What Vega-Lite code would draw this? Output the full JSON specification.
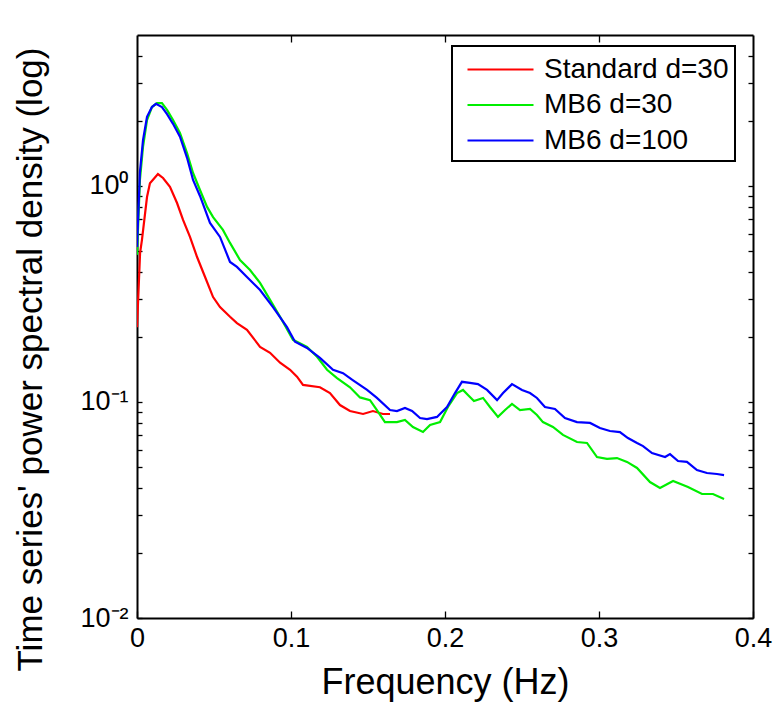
{
  "$schema": "https://vega.github.io/schema/vega-lite/v6.json",
  "width": 616,
  "height": 583,
  "autosize": {"type": "none"},
  "padding": {"left": 137, "top": 35, "right": 26, "bottom": 96},
  "config": {
    "font": "Liberation Sans",
    "view": {"stroke": null},
    "axis": {
      "grid": false,
      "domainColor": "black",
      "domainWidth": 2,
      "tickColor": "black",
      "tickWidth": 1.3,
      "labelColor": "black",
      "titleColor": "black",
      "labelFontSize": 27,
      "titleFontWeight": "normal",
      "labelFlush": false,
      "labelOverlap": false
    }
  },
  "datasets": {
    "psd": [
      {"series": "Standard d=30", "f": 0, "v": 0.222},
      {"series": "Standard d=30", "f": 0.002, "v": 0.49},
      {"series": "Standard d=30", "f": 0.0032, "v": 0.562},
      {"series": "Standard d=30", "f": 0.0065, "v": 0.889},
      {"series": "Standard d=30", "f": 0.0084, "v": 1.03},
      {"series": "Standard d=30", "f": 0.0136, "v": 1.136},
      {"series": "Standard d=30", "f": 0.0169, "v": 1.089},
      {"series": "Standard d=30", "f": 0.0214, "v": 0.99},
      {"series": "Standard d=30", "f": 0.026, "v": 0.834},
      {"series": "Standard d=30", "f": 0.0299, "v": 0.696},
      {"series": "Standard d=30", "f": 0.0344, "v": 0.581},
      {"series": "Standard d=30", "f": 0.039, "v": 0.469},
      {"series": "Standard d=30", "f": 0.0442, "v": 0.379},
      {"series": "Standard d=30", "f": 0.0494, "v": 0.306},
      {"series": "Standard d=30", "f": 0.0539, "v": 0.275},
      {"series": "Standard d=30", "f": 0.0604, "v": 0.248},
      {"series": "Standard d=30", "f": 0.0649, "v": 0.232},
      {"series": "Standard d=30", "f": 0.0714, "v": 0.216},
      {"series": "Standard d=30", "f": 0.0799, "v": 0.18},
      {"series": "Standard d=30", "f": 0.0864, "v": 0.169},
      {"series": "Standard d=30", "f": 0.0929, "v": 0.152},
      {"series": "Standard d=30", "f": 0.0994, "v": 0.141},
      {"series": "Standard d=30", "f": 0.1039, "v": 0.131},
      {"series": "Standard d=30", "f": 0.1078, "v": 0.12},
      {"series": "Standard d=30", "f": 0.1188, "v": 0.117},
      {"series": "Standard d=30", "f": 0.1253, "v": 0.11},
      {"series": "Standard d=30", "f": 0.1318, "v": 0.0968},
      {"series": "Standard d=30", "f": 0.1383, "v": 0.0908},
      {"series": "Standard d=30", "f": 0.1468, "v": 0.088},
      {"series": "Standard d=30", "f": 0.1532, "v": 0.0908},
      {"series": "Standard d=30", "f": 0.1597, "v": 0.088},
      {"series": "Standard d=30", "f": 0.1643, "v": 0.088},

      {"series": "MB6 d=30", "f": 0, "v": 0.48},
      {"series": "MB6 d=30", "f": 0.0019, "v": 1.066},
      {"series": "MB6 d=30", "f": 0.0039, "v": 1.516},
      {"series": "MB6 d=30", "f": 0.0065, "v": 2.02},
      {"series": "MB6 d=30", "f": 0.0097, "v": 2.32},
      {"series": "MB6 d=30", "f": 0.013, "v": 2.42},
      {"series": "MB6 d=30", "f": 0.0162, "v": 2.42},
      {"series": "MB6 d=30", "f": 0.0195, "v": 2.25},
      {"series": "MB6 d=30", "f": 0.0234, "v": 2.02},
      {"series": "MB6 d=30", "f": 0.0279, "v": 1.76},
      {"series": "MB6 d=30", "f": 0.0325, "v": 1.42},
      {"series": "MB6 d=30", "f": 0.0364, "v": 1.148},
      {"series": "MB6 d=30", "f": 0.0409, "v": 0.958},
      {"series": "MB6 d=30", "f": 0.0455, "v": 0.8},
      {"series": "MB6 d=30", "f": 0.0494, "v": 0.718},
      {"series": "MB6 d=30", "f": 0.0558, "v": 0.626},
      {"series": "MB6 d=30", "f": 0.0604, "v": 0.545},
      {"series": "MB6 d=30", "f": 0.0669, "v": 0.454},
      {"series": "MB6 d=30", "f": 0.0734, "v": 0.408},
      {"series": "MB6 d=30", "f": 0.0799, "v": 0.356},
      {"series": "MB6 d=30", "f": 0.0864, "v": 0.297},
      {"series": "MB6 d=30", "f": 0.0929, "v": 0.248},
      {"series": "MB6 d=30", "f": 0.1013, "v": 0.194},
      {"series": "MB6 d=30", "f": 0.1104, "v": 0.18},
      {"series": "MB6 d=30", "f": 0.1169, "v": 0.162},
      {"series": "MB6 d=30", "f": 0.1234, "v": 0.141},
      {"series": "MB6 d=30", "f": 0.1299, "v": 0.129},
      {"series": "MB6 d=30", "f": 0.1383, "v": 0.117},
      {"series": "MB6 d=30", "f": 0.1448, "v": 0.105},
      {"series": "MB6 d=30", "f": 0.1513, "v": 0.102},
      {"series": "MB6 d=30", "f": 0.1558, "v": 0.0918},
      {"series": "MB6 d=30", "f": 0.161, "v": 0.0807},
      {"series": "MB6 d=30", "f": 0.1688, "v": 0.0807},
      {"series": "MB6 d=30", "f": 0.174, "v": 0.0826},
      {"series": "MB6 d=30", "f": 0.1792, "v": 0.0766},
      {"series": "MB6 d=30", "f": 0.1857, "v": 0.0726},
      {"series": "MB6 d=30", "f": 0.1903, "v": 0.0783},
      {"series": "MB6 d=30", "f": 0.1968, "v": 0.0807},
      {"series": "MB6 d=30", "f": 0.2019, "v": 0.0948},
      {"series": "MB6 d=30", "f": 0.2078, "v": 0.11},
      {"series": "MB6 d=30", "f": 0.2117, "v": 0.1137},
      {"series": "MB6 d=30", "f": 0.2149, "v": 0.1077},
      {"series": "MB6 d=30", "f": 0.2188, "v": 0.101},
      {"series": "MB6 d=30", "f": 0.2247, "v": 0.1044},
      {"series": "MB6 d=30", "f": 0.2292, "v": 0.0948},
      {"series": "MB6 d=30", "f": 0.2344, "v": 0.0853},
      {"series": "MB6 d=30", "f": 0.239, "v": 0.0918},
      {"series": "MB6 d=30", "f": 0.2435, "v": 0.098},
      {"series": "MB6 d=30", "f": 0.2487, "v": 0.0918},
      {"series": "MB6 d=30", "f": 0.2552, "v": 0.0928},
      {"series": "MB6 d=30", "f": 0.2597, "v": 0.0871},
      {"series": "MB6 d=30", "f": 0.2636, "v": 0.0807},
      {"series": "MB6 d=30", "f": 0.2701, "v": 0.0766},
      {"series": "MB6 d=30", "f": 0.2766, "v": 0.0704},
      {"series": "MB6 d=30", "f": 0.2857, "v": 0.0653},
      {"series": "MB6 d=30", "f": 0.2922, "v": 0.0646},
      {"series": "MB6 d=30", "f": 0.2987, "v": 0.0556},
      {"series": "MB6 d=30", "f": 0.3052, "v": 0.0545},
      {"series": "MB6 d=30", "f": 0.3117, "v": 0.055},
      {"series": "MB6 d=30", "f": 0.3182, "v": 0.0528},
      {"series": "MB6 d=30", "f": 0.3247, "v": 0.0495},
      {"series": "MB6 d=30", "f": 0.3331, "v": 0.0426},
      {"series": "MB6 d=30", "f": 0.3396, "v": 0.04},
      {"series": "MB6 d=30", "f": 0.3481, "v": 0.0431},
      {"series": "MB6 d=30", "f": 0.3578, "v": 0.0404},
      {"series": "MB6 d=30", "f": 0.3669, "v": 0.0375},
      {"series": "MB6 d=30", "f": 0.374, "v": 0.0375},
      {"series": "MB6 d=30", "f": 0.3812, "v": 0.0356},

      {"series": "MB6 d=100", "f": 0, "v": 0.522},
      {"series": "MB6 d=100", "f": 0.0019, "v": 1.16},
      {"series": "MB6 d=100", "f": 0.0039, "v": 1.63},
      {"series": "MB6 d=100", "f": 0.0065, "v": 2.09},
      {"series": "MB6 d=100", "f": 0.0097, "v": 2.32},
      {"series": "MB6 d=100", "f": 0.0123, "v": 2.4},
      {"series": "MB6 d=100", "f": 0.0162, "v": 2.32},
      {"series": "MB6 d=100", "f": 0.0195, "v": 2.15},
      {"series": "MB6 d=100", "f": 0.0234, "v": 1.94},
      {"series": "MB6 d=100", "f": 0.0279, "v": 1.69},
      {"series": "MB6 d=100", "f": 0.0325, "v": 1.35},
      {"series": "MB6 d=100", "f": 0.0364, "v": 1.066},
      {"series": "MB6 d=100", "f": 0.0409, "v": 0.899},
      {"series": "MB6 d=100", "f": 0.0474, "v": 0.674},
      {"series": "MB6 d=100", "f": 0.0539, "v": 0.581},
      {"series": "MB6 d=100", "f": 0.0604, "v": 0.445},
      {"series": "MB6 d=100", "f": 0.0649, "v": 0.422},
      {"series": "MB6 d=100", "f": 0.0714, "v": 0.379},
      {"series": "MB6 d=100", "f": 0.0799, "v": 0.33},
      {"series": "MB6 d=100", "f": 0.0883, "v": 0.275},
      {"series": "MB6 d=100", "f": 0.0974, "v": 0.222},
      {"series": "MB6 d=100", "f": 0.1026, "v": 0.19},
      {"series": "MB6 d=100", "f": 0.1104, "v": 0.178},
      {"series": "MB6 d=100", "f": 0.1188, "v": 0.16},
      {"series": "MB6 d=100", "f": 0.1273, "v": 0.141},
      {"series": "MB6 d=100", "f": 0.1338, "v": 0.136},
      {"series": "MB6 d=100", "f": 0.1403, "v": 0.126},
      {"series": "MB6 d=100", "f": 0.1494, "v": 0.1137},
      {"series": "MB6 d=100", "f": 0.1558, "v": 0.1044},
      {"series": "MB6 d=100", "f": 0.1643, "v": 0.0918},
      {"series": "MB6 d=100", "f": 0.1688, "v": 0.0908},
      {"series": "MB6 d=100", "f": 0.174, "v": 0.0938},
      {"series": "MB6 d=100", "f": 0.1786, "v": 0.0908},
      {"series": "MB6 d=100", "f": 0.1838, "v": 0.0843},
      {"series": "MB6 d=100", "f": 0.1883, "v": 0.0834},
      {"series": "MB6 d=100", "f": 0.1948, "v": 0.0853},
      {"series": "MB6 d=100", "f": 0.2013, "v": 0.0948},
      {"series": "MB6 d=100", "f": 0.2065, "v": 0.11},
      {"series": "MB6 d=100", "f": 0.211, "v": 0.124},
      {"series": "MB6 d=100", "f": 0.2162, "v": 0.1225},
      {"series": "MB6 d=100", "f": 0.2214, "v": 0.121},
      {"series": "MB6 d=100", "f": 0.2273, "v": 0.1137},
      {"series": "MB6 d=100", "f": 0.2338, "v": 0.102},
      {"series": "MB6 d=100", "f": 0.2377, "v": 0.11},
      {"series": "MB6 d=100", "f": 0.2435, "v": 0.121},
      {"series": "MB6 d=100", "f": 0.25, "v": 0.1137},
      {"series": "MB6 d=100", "f": 0.2552, "v": 0.11},
      {"series": "MB6 d=100", "f": 0.2597, "v": 0.1044},
      {"series": "MB6 d=100", "f": 0.2649, "v": 0.0948},
      {"series": "MB6 d=100", "f": 0.2714, "v": 0.0928},
      {"series": "MB6 d=100", "f": 0.2779, "v": 0.0843},
      {"series": "MB6 d=100", "f": 0.2857, "v": 0.0807},
      {"series": "MB6 d=100", "f": 0.2942, "v": 0.08},
      {"series": "MB6 d=100", "f": 0.3006, "v": 0.0758},
      {"series": "MB6 d=100", "f": 0.3071, "v": 0.0734},
      {"series": "MB6 d=100", "f": 0.3136, "v": 0.0726},
      {"series": "MB6 d=100", "f": 0.3188, "v": 0.0681},
      {"series": "MB6 d=100", "f": 0.3247, "v": 0.0646},
      {"series": "MB6 d=100", "f": 0.3286, "v": 0.0625},
      {"series": "MB6 d=100", "f": 0.3344, "v": 0.058},
      {"series": "MB6 d=100", "f": 0.3429, "v": 0.0556},
      {"series": "MB6 d=100", "f": 0.3461, "v": 0.0574},
      {"series": "MB6 d=100", "f": 0.3513, "v": 0.0533},
      {"series": "MB6 d=100", "f": 0.3571, "v": 0.0528},
      {"series": "MB6 d=100", "f": 0.3636, "v": 0.0484},
      {"series": "MB6 d=100", "f": 0.3701, "v": 0.0469},
      {"series": "MB6 d=100", "f": 0.3766, "v": 0.0464},
      {"series": "MB6 d=100", "f": 0.3812, "v": 0.0459}
    ]
  },
  "data": {"name": "psd"},
  "layer": [
    {
      "transform": [{"filter": "datum.series == 'Standard d=30'"}],
      "mark": {"type": "line", "strokeWidth": 2.2, "clip": true},
      "encoding": {
        "x": {
          "field": "f", "type": "quantitative",
          "scale": {"domain": [0, 0.4], "nice": false, "zero": false},
          "axis": {
            "orient": "bottom",
            "values": [0, 0.1, 0.2, 0.3, 0.4],
            "labelExpr": "datum.value == 0 ? '0' : format(datum.value, '.1f')",
            "tickSize": -7,
            "labelPadding": 14,
            "title": "Frequency (Hz)",
            "titleFontSize": 36,
            "titlePadding": 14
          }
        },
        "y": {
          "field": "v", "type": "quantitative",
          "scale": {"type": "log", "domain": [0.01, 5], "nice": false},
          "axis": {
            "orient": "left",
            "values": [0.01, 0.02, 0.03, 0.04, 0.05, 0.06, 0.07, 0.08, 0.09, 0.1, 0.2, 0.3, 0.4, 0.5, 0.6, 0.7, 0.8, 0.9, 1, 2, 3, 4],
            "labelExpr": "datum.value == 1 ? '10⁰' : (datum.value == 0.1 ? '10⁻¹' : (datum.value == 0.01 ? '10⁻²' : ''))",
            "tickSize": -5,
            "labelPadding": 14,
            "title": "Time series' power spectral density (log)",
            "titleFontSize": 35,
            "titleX": -107,
            "titleY": 324,
            "titleAlign": "center",
            "titleBaseline": "middle",
            "titleAngle": -90
          }
        },
        "color": {
          "field": "series", "type": "nominal",
          "scale": {"domain": ["Standard d=30", "MB6 d=30", "MB6 d=100"], "range": ["#ff0000", "#00ee00", "#0000ff"]},
          "legend": {
            "title": null,
            "orient": "none",
            "legendX": 315,
            "legendY": 11,
            "fillColor": "white",
            "strokeColor": "black",
            "padding": 6,
            "symbolType": "M-2,0H2",
            "symbolSize": 1089,
            "symbolStrokeWidth": 2,
            "symbolOffset": 25,
            "labelOffset": 26,
            "rowPadding": 3.5,
            "labelFontSize": 28,
            "labelLimit": 400,
            "labelColor": "black",
            "labelExpr": "datum.label + ' '",
            "encode": {"legend": {"update": {"strokeWidth": {"value": 2}}}}
          }
        }
      }
    },
    {
      "transform": [{"filter": "datum.series == 'MB6 d=30'"}],
      "mark": {"type": "line", "strokeWidth": 2.2, "clip": true},
      "encoding": {
        "x": {"field": "f", "type": "quantitative", "axis": null},
        "y": {"field": "v", "type": "quantitative", "axis": null},
        "color": {"field": "series", "type": "nominal"}
      }
    },
    {
      "transform": [{"filter": "datum.series == 'MB6 d=100'"}],
      "mark": {"type": "line", "strokeWidth": 2.2, "clip": true},
      "encoding": {
        "x": {"field": "f", "type": "quantitative", "axis": null},
        "y": {"field": "v", "type": "quantitative", "axis": null},
        "color": {"field": "series", "type": "nominal"}
      }
    },
    {
      "mark": {"type": "line", "opacity": 0},
      "encoding": {
        "x": {
          "field": "f", "type": "quantitative",
          "axis": {"orient": "top", "values": [0.1, 0.2, 0.3], "labels": false, "tickSize": -7, "title": null}
        },
        "y": {
          "field": "v", "type": "quantitative",
          "axis": {
            "orient": "right",
            "values": [0.01, 0.02, 0.03, 0.04, 0.05, 0.06, 0.07, 0.08, 0.09, 0.1, 0.2, 0.3, 0.4, 0.5, 0.6, 0.7, 0.8, 0.9, 1, 2, 3, 4],
            "labels": false, "tickSize": -5, "title": null
          }
        }
      }
    }
  ],
  "resolve": {"axis": {"x": "independent", "y": "independent"}}
}
